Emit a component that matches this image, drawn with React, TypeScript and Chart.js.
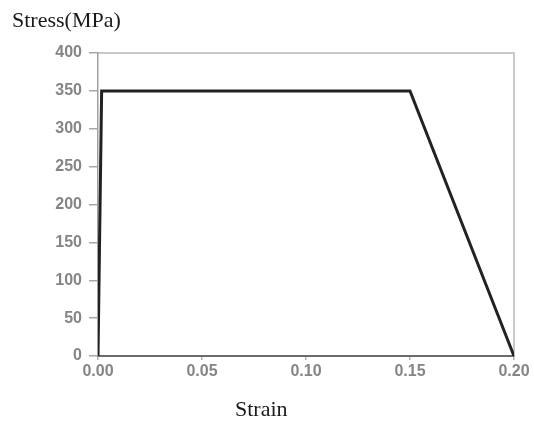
import React, { useEffect, useRef } from "react";
import { Chart, registerables } from "chart.js";

Chart.register(...registerables);

const strain = [0, 0.00175, 0.15, 0.2];
const stress = [0, 350, 350, 0];
const yTicks = [0, 50, 100, 150, 200, 250, 300, 350, 400];
const xTicks = ["0.00", "0.05", "0.10", "0.15", "0.20"];
const yLabel = "Stress(MPa)";
const xLabel = "Strain";

const textPlugin = {
  id: "texts",
  beforeDraw(chart: any) {
    const { ctx, chartArea } = chart;
    ctx.save();
    ctx.strokeStyle = "#b8b8b8";
    ctx.lineWidth = 1.5;
    ctx.beginPath();
    ctx.moveTo(chartArea.left, chartArea.top);
    ctx.lineTo(chartArea.right, chartArea.top);
    ctx.lineTo(chartArea.right, chartArea.bottom);
    ctx.stroke();
    ctx.restore();
  },
  afterDraw(chart: any) {
    const { ctx } = chart;
    ctx.save();
    ctx.fillStyle = "#1a1a1a";
    ctx.font = '22px "Liberation Serif"';
    ctx.textBaseline = "alphabetic";
    ctx.textAlign = "left";
    ctx.fillText(yLabel, 12, 27);
    ctx.fillText(xLabel, 235, 416);
    ctx.restore();
  },
};

export default function App() {
  const ref = useRef<HTMLCanvasElement | null>(null);
  useEffect(() => {
    if (!ref.current) return;
    const chart = new Chart(ref.current, {
      type: "scatter",
      data: {
        datasets: [
          {
            data: strain.map((x, i) => ({ x, y: stress[i] })),
            showLine: true,
            borderColor: "#222222",
            borderWidth: 3,
            pointRadius: 0,
            fill: false,
          },
        ],
      },
      options: {
        responsive: false,
        animation: false,
        layout: { padding: { top: 53, right: 20, left: 0, bottom: 0 } },
        plugins: { legend: { display: false }, tooltip: { enabled: false }, title: { display: false } },
        scales: {
          x: {
            type: "linear",
            min: 0,
            max: 0.2,
            afterFit(scale: any) {
              scale.height = 65;
            },
            afterBuildTicks(scale: any) {
              scale.ticks = xTicks.map((t) => ({ value: parseFloat(t) }));
            },
            ticks: {
              callback: (v: any) => xTicks.find((t) => Math.abs(parseFloat(t) - v) < 1e-9) ?? "",
              color: "#858585",
              font: { family: '"Liberation Sans"', size: 16, weight: "bold" },
              padding: 2,
              maxRotation: 0,
              autoSkip: false,
            },
            grid: { drawOnChartArea: false, drawTicks: true, tickLength: 4, color: "#b0b0b0", lineWidth: 1.5 },
            border: { display: true, color: "#6a6a6a", width: 2 },
          },
          y: {
            type: "linear",
            min: 0,
            max: 400,
            afterFit(scale: any) {
              scale.width = 98;
            },
            afterBuildTicks(scale: any) {
              scale.ticks = yTicks.map((v) => ({ value: v }));
            },
            ticks: {
              color: "#858585",
              font: { family: '"Liberation Sans"', size: 16, weight: "bold" },
              padding: 7,
              autoSkip: false,
            },
            grid: { drawOnChartArea: false, drawTicks: true, tickLength: 9, color: "#a8a8a8", lineWidth: 1.5 },
            border: { display: true, color: "#a0a0a0", width: 1.5 },
          },
        },
      },
      plugins: [textPlugin],
    });
    return () => chart.destroy();
  }, []);
  return (
    <div style={{ position: "fixed", left: 0, top: 0, width: 534, height: 421, background: "#fff" }}>
      <canvas ref={ref} width={534} height={421} />
    </div>
  );
}
